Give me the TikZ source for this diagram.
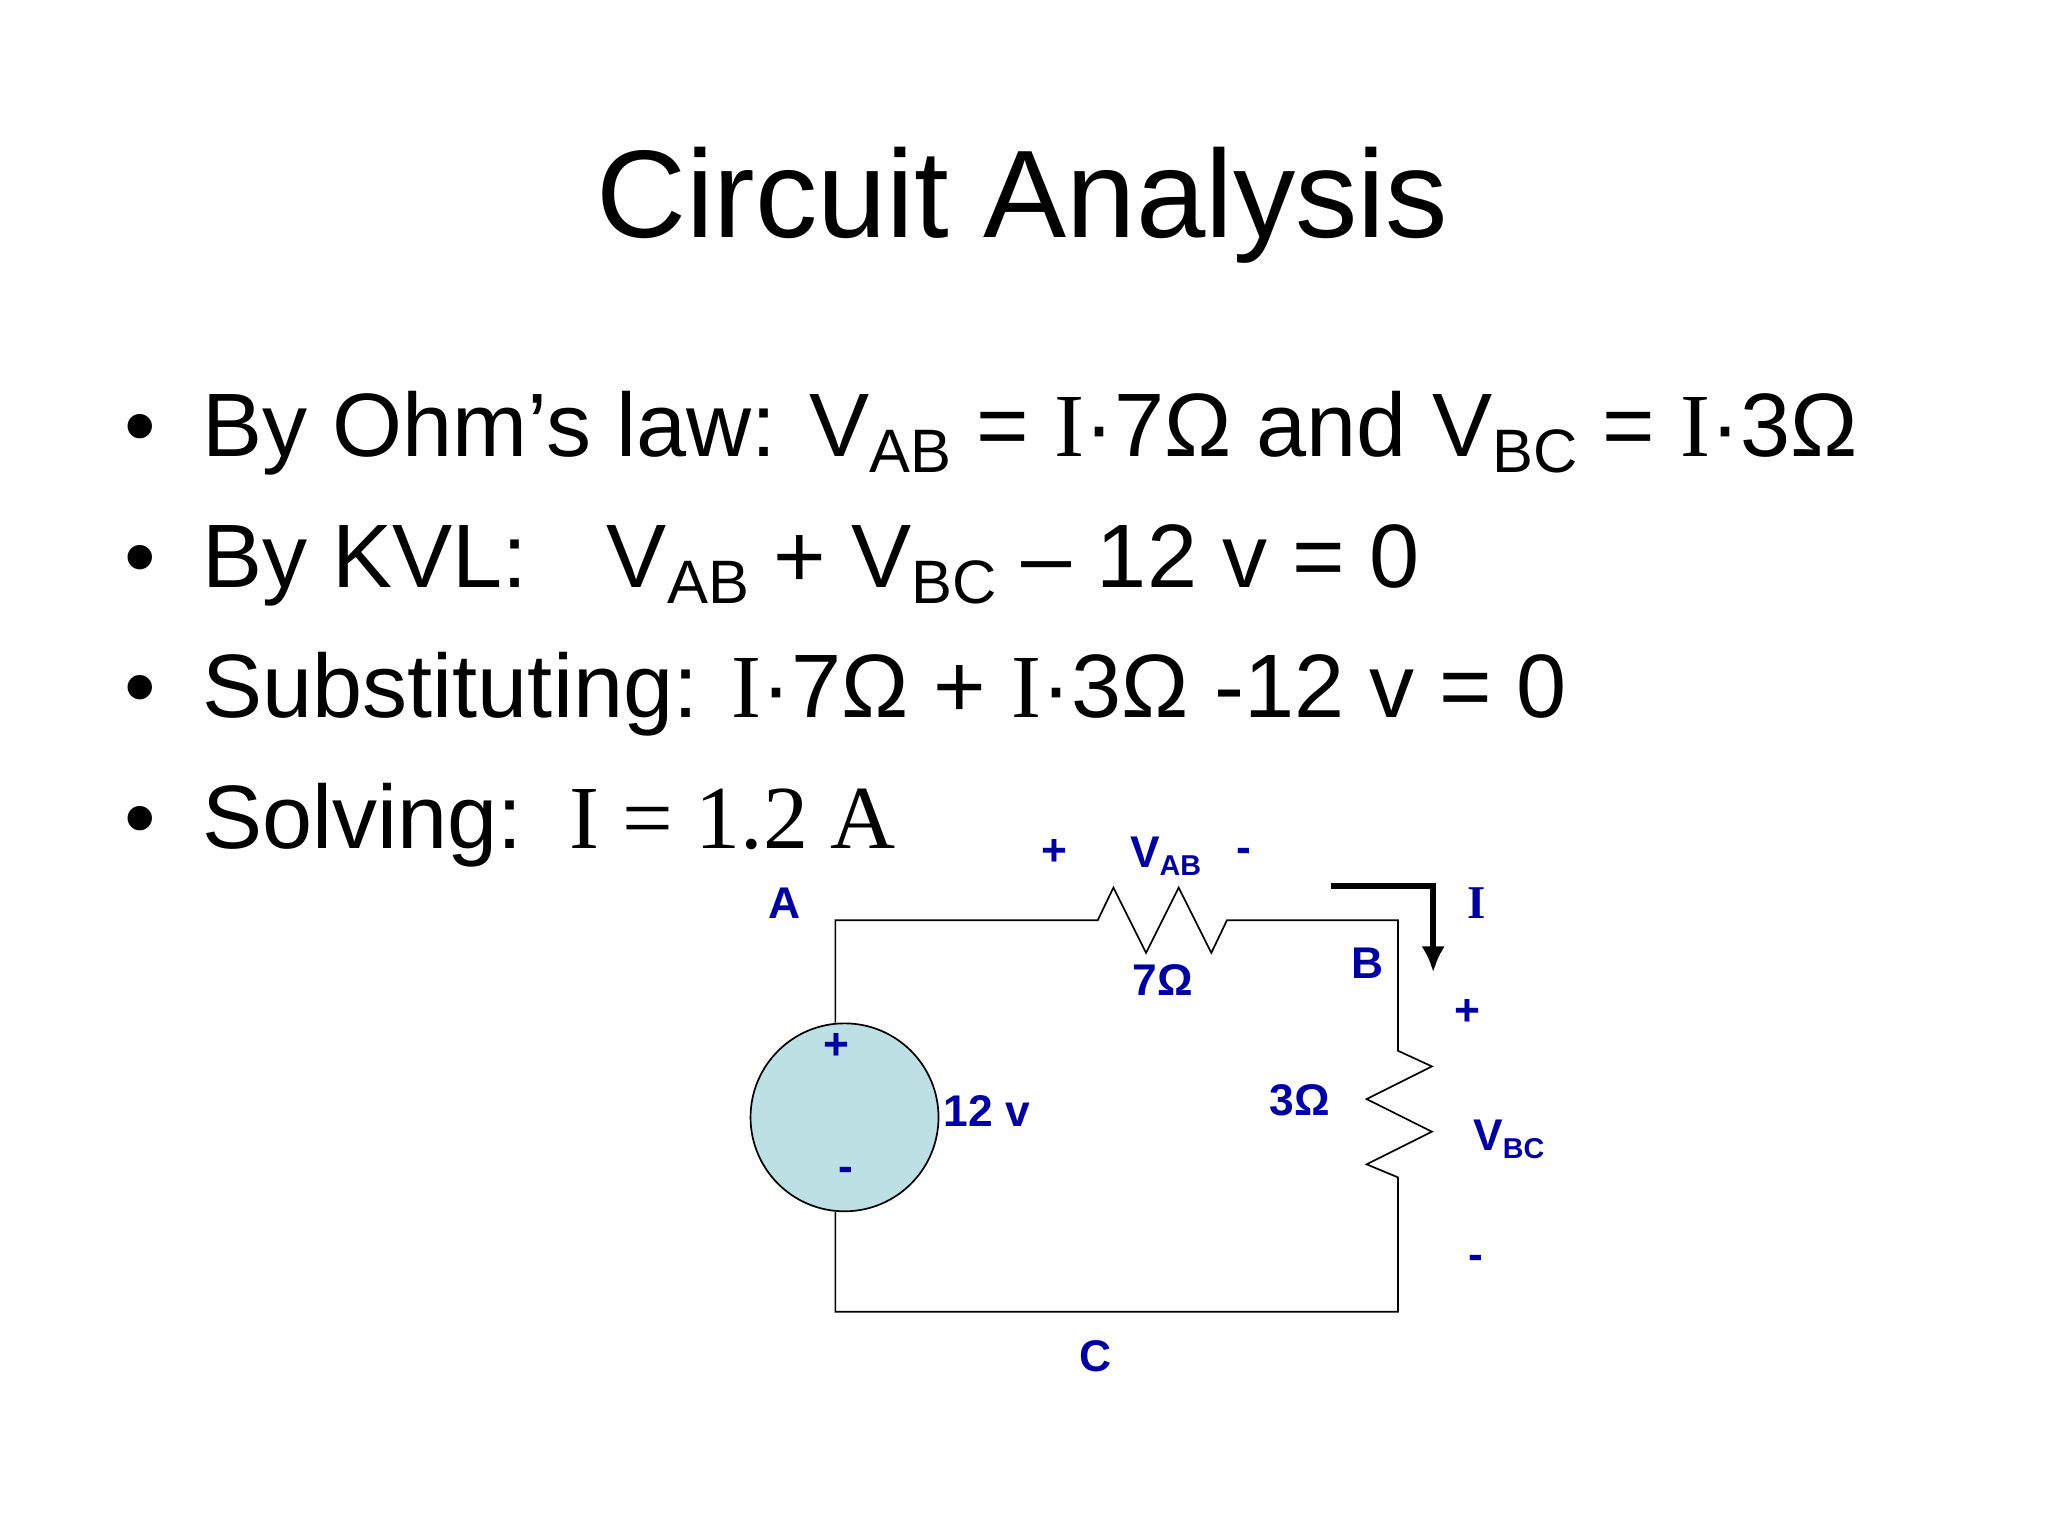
\documentclass[tikz,border=0pt]{standalone}
\usetikzlibrary{arrows.meta}
\usepackage{fontspec}
\setmainfont{Liberation Sans}
\newfontfamily\tms{Liberation Serif}
\definecolor{lblue}{RGB}{0,0,160}
\definecolor{srcfill}{RGB}{188,224,228}
\newcommand{\sbs}[1]{\raisebox{-12pt}{\fontsize{47}{50}\selectfont #1}}
\newcommand{\ssb}[1]{\raisebox{-6pt}{\fontsize{22}{24}\selectfont\bfseries #1}}
\begin{document}
\begin{tikzpicture}[x=1pt,y=-1pt,
  lbl/.style={text=lblue,font=\fontsize{34}{36}\selectfont\bfseries,inner sep=0},
  bl/.style={anchor=base west,inner sep=0,font=\fontsize{69}{80}\selectfont},
  wire/.style={line width=1.3pt}]
\useasboundingbox (0,0) rectangle (1569,1177);
\node[inner sep=0,anchor=base,font=\fontsize{95.5}{110}\selectfont] (title) at (783,182) {Circuit Analysis};
\foreach \y [count=\i] in {350,450,550,650}{
  \node[bl] (b\i) at (95,\y) {\textbullet};}
\node[bl] (l1) at (155,350) {By Ohm’s law: V\sbs{AB} = {\tms I}·7Ω and V\sbs{BC} = {\tms I}·3Ω};
\node[bl] (l2) at (155,450) {By KVL:\hspace{0.6em} V\sbs{AB} + V\sbs{BC} – 12 v = 0};
\node[bl] (l3) at (155,550) {Substituting: {\tms I}·7Ω + {\tms I}·3Ω -12 v = 0};
\node[bl] (l4) at (155,650) {Solving:\hspace{0.15em} {\tms I = 1.2 A}};
% circuit
\coordinate (A) at (640,705);
\coordinate (R1a) at (836,705);
\coordinate (R1b) at (940,705);
\coordinate (Bc) at (1071,705);
\coordinate (R2a) at (1071,797);
\coordinate (R2b) at (1071,902);
\coordinate (Cr) at (1071,1005);
\coordinate (Cl) at (640,1005);
\node[circle,draw,wire,fill=srcfill,minimum size=144pt,inner sep=0] (src) at (647,856) {};
\draw[wire] (src.south -| Cl) -- (Cl) -- (Cr) -- (R2b)
  -- ++(-24,-10) -- ++(50,-25) -- ++(-50,-25) -- ++(50,-25) -- ++(-26,-12) -- (R2a)
  -- (Bc) -- (R1b) -- ++(-12,25) -- ++(-25,-50) -- ++(-25,50) -- ++(-25,-50) -- ++(-12,25) -- (R1a) -- (A) -- (src.north -| A);
\draw[line width=4.5pt,-{Latex[length=20pt,width=18pt]}] (1020,679) -- (1098,679) -- (1098,745);
\node[lbl] (tA) at (601,692) {A};
\node[lbl] (tp1) at (808,653) {+};
\node[lbl] (tVab) at (893,656) {V\ssb{AB}};
\node[lbl] (tm1) at (953,655) {-};
\node[lbl,font=\fontsize{36}{38}\selectfont\tms\bfseries] (tI) at (1131,692) {I};
\node[lbl] (t7) at (891,751) {7Ω};
\node[lbl] (tB) at (1048,738) {B};
\node[lbl] (tp2) at (1124,776) {+};
\node[lbl] (t3) at (996,843) {3Ω};
\node[lbl] (tVbc) at (1156,873) {V\ssb{BC}};
\node[lbl] (tm2) at (1131,967) {-};
\node[lbl] (tC) at (839,1039) {C};
\node[lbl] (tp3) at (641,802) {+};
\node[lbl] (tm3) at (648,900) {-};
\node[lbl] (t12) at (756,851) {12 v};
\end{tikzpicture}
\end{document}
